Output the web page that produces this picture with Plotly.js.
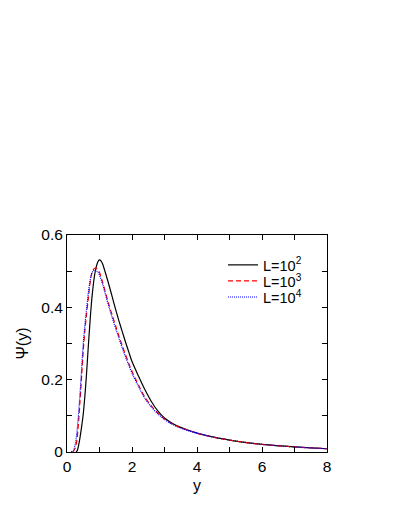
<!DOCTYPE html>
<html>
<head>
<meta charset="utf-8">
<script src="https://cdn.plot.ly/plotly-3.0.1.min.js"></script>
<style>html,body{margin:0;padding:0;background:#fff;}#chart{width:395px;height:511px;}</style>
</head>
<body>
<div id="chart"></div>
<script>
// L = 10^2 (black solid)
const x_L2 = [0.28,0.32,0.36,0.40,0.45,0.50,0.55,0.60,0.65,0.70,0.75,0.80,0.85,0.90,0.95,1.00,1.05,1.10,1.15,1.20,1.30,1.40,1.50,1.60,1.70,1.80,1.90,2.00,2.20,2.40,2.60,2.80,3.00,3.25,3.50,4.00,4.40,5.00,5.60,6.00,7.00,8.00];
const y_L2 = [0.000,0.005,0.020,0.040,0.070,0.105,0.155,0.215,0.285,0.350,0.410,0.455,0.490,0.512,0.526,0.531,0.528,0.519,0.505,0.490,0.459,0.426,0.393,0.362,0.333,0.304,0.277,0.250,0.210,0.172,0.139,0.113,0.094,0.079,0.068,0.052,0.043,0.033,0.025,0.021,0.014,0.009];
// L = 10^3 (red dashed)
const x_L3 = [0.18,0.25,0.30,0.35,0.40,0.45,0.50,0.55,0.60,0.65,0.70,0.75,0.80,0.85,0.90,0.95,1.00,1.10,1.20,1.30,1.40,1.50,1.60,1.70,1.80,1.90,2.00,2.20,2.40,2.60,2.80,3.00,3.25,3.50,4.00,4.40,5.00,5.60,6.00,7.00,8.00];
const y_L3 = [0.000,0.010,0.030,0.075,0.140,0.210,0.280,0.335,0.380,0.420,0.460,0.490,0.503,0.508,0.508,0.504,0.496,0.468,0.436,0.404,0.376,0.348,0.320,0.294,0.269,0.245,0.223,0.185,0.151,0.127,0.107,0.091,0.077,0.067,0.052,0.043,0.033,0.025,0.021,0.014,0.009];
// L = 10^4 (blue dotted)
const x_L4 = [0.13,0.20,0.25,0.30,0.35,0.40,0.45,0.50,0.55,0.60,0.65,0.70,0.75,0.80,0.85,0.90,0.95,1.00,1.10,1.20,1.30,1.40,1.50,1.60,1.70,1.80,1.90,2.00,2.20,2.40,2.60,2.80,3.00,3.25,3.50,4.00,4.40,5.00,5.60,6.00,7.00,8.00];
const y_L4 = [0.000,0.005,0.020,0.050,0.100,0.160,0.230,0.300,0.350,0.395,0.435,0.468,0.490,0.500,0.504,0.502,0.497,0.489,0.463,0.430,0.398,0.369,0.341,0.314,0.288,0.263,0.240,0.218,0.181,0.148,0.124,0.105,0.090,0.076,0.066,0.052,0.043,0.033,0.025,0.021,0.014,0.009];
const seriesNames = ['L=10<sup>2</sup>','L=10<sup>3</sup>','L=10<sup>4</sup>'];
const xTicks = [0,2,4,6,8];
const yTicks = [0,0.2,0.4,0.6];
const yTickText = ['0','0.2','0.4','0.6'];

const traces = [
  {x:x_L2, y:y_L2, name:seriesNames[0], legend:'legend', mode:'lines', line:{color:'#000000', width:1.2, shape:'spline', smoothing:0.8}},
  {x:x_L3, y:y_L3, name:seriesNames[1], legend:'legend2', mode:'lines', line:{color:'#ff0000', width:1.2, dash:'5px,3px', shape:'spline', smoothing:0.8}},
  {x:x_L4, y:y_L4, name:seriesNames[2], legend:'legend3', mode:'lines', line:{color:'#0000ff', width:1.2, dash:'1px,1px', shape:'spline', smoothing:0.8}}
];
const axisCommon = {
  showline:true, linecolor:'#000', linewidth:1, mirror:'ticks',
  ticks:'inside', ticklen:5, tickcolor:'#000', tickwidth:1,
  showgrid:false, zeroline:false,
  tickfont:{family:'Liberation Sans, Arial, sans-serif', size:15.5, color:'#000'}
};
function leg(yc){ return {x:0.6, y:yc, xanchor:'left', yanchor:'middle', bgcolor:'rgba(0,0,0,0)', borderwidth:0, font:{size:14.5}}; }
const layout = {
  width:395, height:511,
  margin:{l:67, r:68, t:235, b:59},
  paper_bgcolor:'#fff', plot_bgcolor:'#fff',
  font:{family:'Liberation Sans, Arial, sans-serif', size:15, color:'#000'},
  showlegend:true,
  legend:leg(0.862), legend2:leg(0.788), legend3:leg(0.714),
  xaxis:Object.assign({}, axisCommon, {range:[0,8], tickvals:xTicks, ticktext:xTicks.map(String),
    minor:{dtick:1, ticklen:5, tickcolor:'#000', ticks:'inside', showgrid:false},
    title:{text:'y', font:{size:16}, standoff:6}}),
  yaxis:Object.assign({}, axisCommon, {range:[0,0.6], tickvals:yTicks, ticktext:yTickText,
    minor:{dtick:0.1, ticklen:5, tickcolor:'#000', ticks:'inside', showgrid:false},
    title:{text:'Ψ(y)', font:{size:16}, standoff:8}})
};
Plotly.newPlot('chart', traces, layout, {displayModeBar:false, staticPlot:true});
</script>
</body>
</html>
